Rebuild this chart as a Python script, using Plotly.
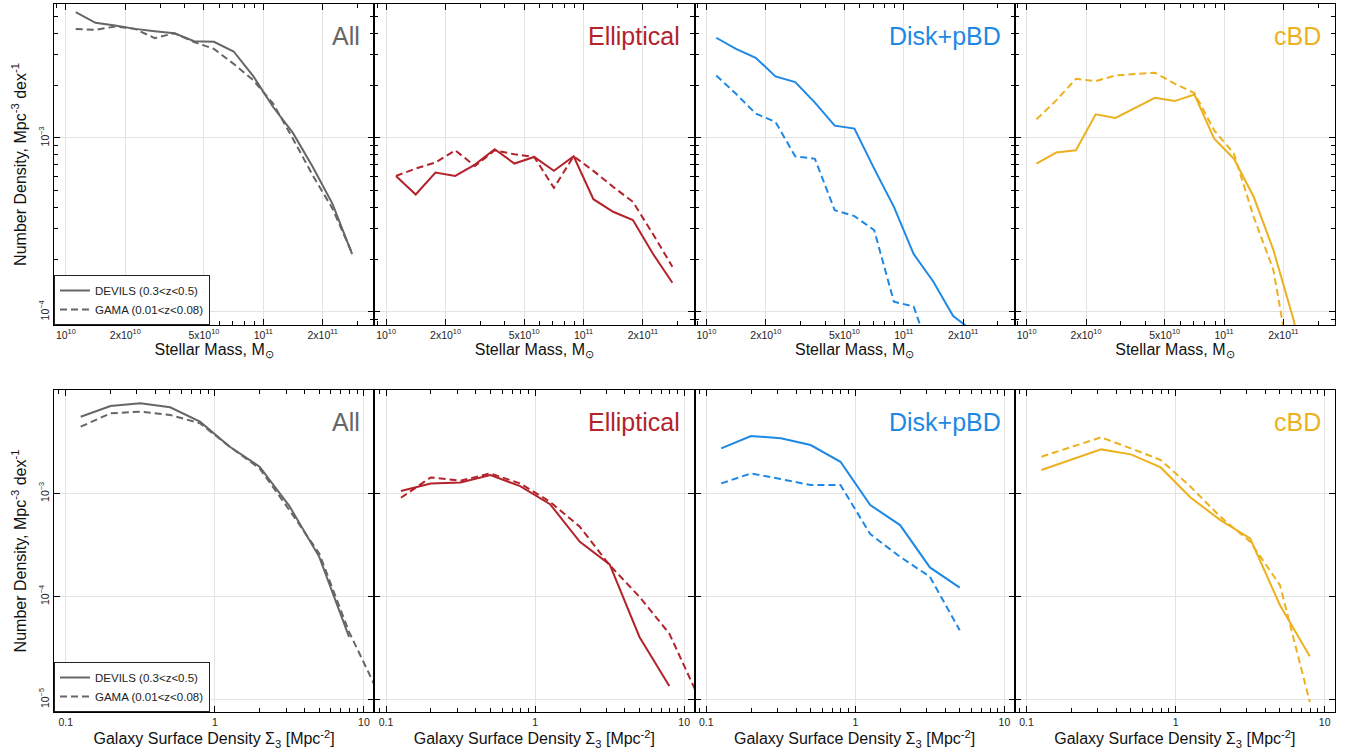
import numpy as np
import plotly.graph_objects as go

# ---------------- data (log10 values) ----------------
log_mass = [10.05, 10.15, 10.25, 10.35, 10.45, 10.55, 10.65, 10.75,
            10.85, 10.95, 11.05, 11.15, 11.25, 11.35, 11.45]
log_sigma = [-0.9, -0.7, -0.5, -0.3, -0.1, 0.1, 0.3, 0.5, 0.7, 0.9, 1.1]

# Stellar mass functions: log10 number density [Mpc^-3 dex^-1]
all_devils_m = [-2.277, -2.338, -2.354, -2.373, -2.386, -2.398, -2.444, -2.447,
                -2.503, -2.646, -2.822, -2.971, -3.166, -3.377, -3.667]
all_gama_m = [-2.373, -2.379, -2.359, -2.373, -2.426, -2.398, -2.449, -2.488,
              -2.574, -2.669, -2.803, -3.004, -3.214, -3.405, -3.663]
ell_devils_m = [-3.218, -3.325, -3.199, -3.218, -3.153, -3.065, -3.147, -3.109,
                -3.189, -3.105, -3.352, -3.424, -3.472, -3.663, -3.832]
ell_gama_m = [-3.218, -3.176, -3.141, -3.071, -3.161, -3.071, -3.094, -3.109,
              -3.287, -3.105, -3.189, -3.281, -3.367, -3.549, -3.740]
disk_devils_m = [-2.424, -2.488, -2.539, -2.646, -2.679, -2.797, -2.929, -2.946,
                 -3.176, -3.396, -3.667, -3.826, -4.023, -4.110, -4.300]
disk_gama_m = [-2.641, -2.746, -2.860, -2.908, -3.105, -3.120, -3.415, -3.449,
               -3.530, -3.941, -3.969, -4.294]
cbd_devils_m = [-3.147, -3.084, -3.071, -2.864, -2.885, -2.826, -2.769, -2.788,
                -2.750, -3.004, -3.119, -3.338, -3.644, -4.036, -4.500]
cbd_gama_m = [-2.893, -2.784, -2.660, -2.673, -2.641, -2.631, -2.625, -2.688,
              -2.742, -2.956, -3.090, -3.453, -3.759, -4.409]

# Environmental density functions
all_devils_s = [-2.256, -2.152, -2.126, -2.165, -2.304, -2.547, -2.741, -3.123,
                -3.615, -4.392]
all_gama_s = [-2.353, -2.223, -2.207, -2.239, -2.320, -2.547, -2.757, -3.162,
              -3.583, -4.343, -4.945]
ell_devils_s = [-2.977, -2.903, -2.893, -2.822, -2.929, -3.104, -3.469, -3.689,
                -4.392, -4.867]
ell_gama_s = [-3.042, -2.845, -2.877, -2.806, -2.903, -3.081, -3.324, -3.696,
              -4.003, -4.359, -4.987]
disk_devils_s = [-2.563, -2.443, -2.466, -2.531, -2.693, -3.113, -3.307, -3.718,
                 -3.913]
disk_gama_s = [-2.903, -2.806, -2.861, -2.919, -2.919, -3.395, -3.615, -3.809,
               -4.327]
cbd_devils_s = [-2.773, -2.676, -2.573, -2.621, -2.748, -3.039, -3.259, -3.437,
                -4.084, -4.579]
cbd_gama_s = [-2.644, -2.547, -2.456, -2.563, -2.676, -2.935, -3.227, -3.469,
              -3.890, -5.023]

panel_names = ["All", "Elliptical", "Disk+pBD", "cBD"]
panel_colors = ["#666666", "#B3232B", "#1E88E5", "#EDB120"]
series_names = ["DEVILS (0.3&lt;z&lt;0.5)", "GAMA (0.01&lt;z&lt;0.08)"]

mass_series = [(all_devils_m, all_gama_m), (ell_devils_m, ell_gama_m),
               (disk_devils_m, disk_gama_m), (cbd_devils_m, cbd_gama_m)]
sigma_series = [(all_devils_s, all_gama_s), (ell_devils_s, ell_gama_s),
                (disk_devils_s, disk_gama_s), (cbd_devils_s, cbd_gama_s)]

mass_tickvals = [1e10, 2e10, 5e10, 1e11, 2e11]
mass_ticktext = ["10<sup>10</sup>", "2x10<sup>10</sup>", "5x10<sup>10</sup>",
                 "10<sup>11</sup>", "2x10<sup>11</sup>"]
sigma_tickvals = [0.1, 1, 10]
sigma_ticktext = ["0.1", "1", "10"]
top_ytickvals = [1e-4, 1e-3]
top_yticktext = ["10<sup>−4</sup>", "10<sup>−3</sup>"]
bot_ytickvals = [1e-5, 1e-4, 1e-3]
bot_yticktext = ["10<sup>−5</sup>", "10<sup>−4</sup>", "10<sup>−3</sup>"]

# ---------------- figure ----------------
FONT = "Liberation Sans, Arial, Helvetica, sans-serif"
fig = go.Figure()

xdoms = [[0.0, 0.25], [0.25, 0.5], [0.5, 0.75], [0.75, 1.0]]
top_dom = [0.5466, 1.0]
bot_dom = [0.0, 0.4548]
dash_style = "7px,4px"

for row in range(2):
    series = mass_series if row == 0 else sigma_series
    xbase = log_mass if row == 0 else log_sigma
    for col in range(4):
        idx = row * 4 + col + 1
        xa = "x" if idx == 1 else f"x{idx}"
        ya = "y" if idx == 1 else f"y{idx}"
        devils, gama = series[col]
        color = panel_colors[col]
        legend_name = "legend" if row == 0 else "legend2"
        for vals, name, dash in ((devils, series_names[0], "solid"),
                                 (gama, series_names[1], dash_style)):
            fig.add_trace(go.Scatter(
                x=np.power(10.0, xbase[:len(vals)]),
                y=np.power(10.0, vals),
                mode="lines",
                line=dict(color=color, width=2, dash=dash),
                name=name,
                showlegend=(col == 0),
                legend=legend_name,
                xaxis=xa, yaxis=ya,
                hoverinfo="skip",
            ))
        fig.add_annotation(
            text=panel_names[col], xref=f"{xa} domain", yref=f"{ya} domain",
            x=0.962, y=0.90, xanchor="right", yanchor="middle",
            showarrow=False, font=dict(family=FONT, size=25, color=color))

common_axis = dict(
    type="log", showline=True, linecolor="black", linewidth=1.2, mirror="allticks",
    ticks="inside", ticklen=6, tickwidth=1, tickcolor="black",
    showgrid=True, gridcolor="#e3e3e3", gridwidth=1, zeroline=False,
    tickfont=dict(family=FONT, size=10.5, color="#222222"),
)
minor_ticks = dict(ticks="inside", ticklen=4, dtick="D1", tickwidth=1,
                   tickcolor="black", showgrid=False)

layout = {}
for row in range(2):
    for col in range(4):
        idx = row * 4 + col + 1
        xk = "xaxis" if idx == 1 else f"xaxis{idx}"
        yk = "yaxis" if idx == 1 else f"yaxis{idx}"
        ya_ref = "y" if idx == 1 else f"y{idx}"
        xa_ref = "x" if idx == 1 else f"x{idx}"
        if row == 0:
            xax = dict(common_axis, domain=xdoms[col], anchor=ya_ref,
                       range=[9.94, 11.562], tickmode="array",
                       tickvals=mass_tickvals, ticktext=mass_ticktext,
                       minor=minor_ticks,
                       title=dict(text="Stellar Mass, M<sub>⊙</sub>",
                                  font=dict(family=FONT, size=16, color="#111"),
                                  standoff=2))
            yax = dict(common_axis, domain=top_dom, anchor=xa_ref,
                       range=[-4.075, -2.23], tickmode="array",
                       tickvals=top_ytickvals, ticktext=top_yticktext,
                       minor=minor_ticks)
        else:
            xax = dict(common_axis, domain=xdoms[col], anchor=ya_ref,
                       range=[-1.079, 1.069], tickmode="array",
                       tickvals=sigma_tickvals, ticktext=sigma_ticktext,
                       minor=minor_ticks,
                       title=dict(text="Galaxy Surface Density Σ<sub>3</sub> [Mpc<sup>-2</sup>]",
                                  font=dict(family=FONT, size=16, color="#111"),
                                  standoff=2))
            yax = dict(common_axis, domain=bot_dom, anchor=xa_ref,
                       range=[-5.12, -1.997], tickmode="array",
                       tickvals=bot_ytickvals, ticktext=bot_yticktext)
        if col == 0:
            yax.update(tickangle=-90, showticklabels=True,
                       title=dict(text="Number Density, Mpc<sup>-3</sup> dex<sup>-1</sup>",
                                  font=dict(family=FONT, size=16, color="#111"),
                                  standoff=6))
        else:
            yax.update(showticklabels=False)
        layout[xk] = xax
        layout[yk] = yax

legend_common = dict(
    xanchor="left", yanchor="bottom", bgcolor="white",
    bordercolor="#222222", borderwidth=1,
    font=dict(family=FONT, size=11.5, color="#222222"),
    tracegroupgap=0, itemwidth=30,
)

fig.update_layout(
    **layout,
    width=1352, height=752,
    margin=dict(l=54, r=17, t=4, b=40, autoexpand=False),
    paper_bgcolor="white", plot_bgcolor="white",
    font=dict(family=FONT, color="#222222"),
    legend=dict(legend_common, x=0.0, y=0.5466),
    legend2=dict(legend_common, x=0.0, y=0.0),
)

fig.write_html("out.html")
